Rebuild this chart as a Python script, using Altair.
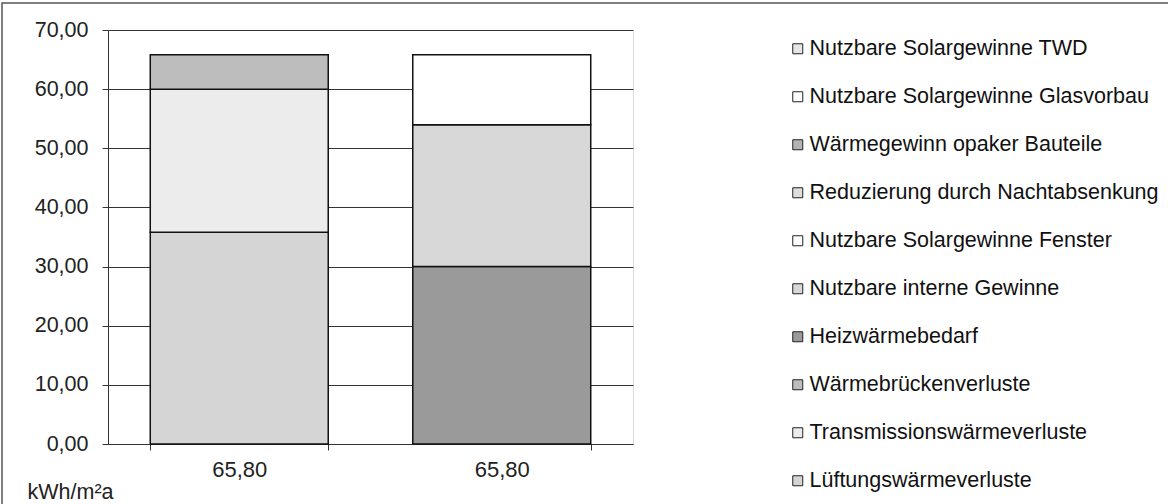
import altair as alt
import pandas as pd

# ---- data ----
series = [
    "Lüftungswärmeverluste",
    "Transmissionswärmeverluste",
    "Wärmebrückenverluste",
    "Heizwärmebedarf",
    "Nutzbare interne Gewinne",
    "Nutzbare Solargewinne Fenster",
    "Reduzierung durch Nachtabsenkung",
    "Wärmegewinn opaker Bauteile",
    "Nutzbare Solargewinne Glasvorbau",
    "Nutzbare Solargewinne TWD",
]
colors = [
    "#d5d5d5", "#ececec", "#bdbdbd", "#9a9a9a", "#d8d8d8",
    "#ffffff", "#dedede", "#b4b4b4", "#ffffff", "#e6e6e6",
]
bar_ids = ["A", "B"]
bar_labels = ["65,80", "65,80"]
values_a = [35.8, 24.2, 5.8, 0, 0, 0, 0, 0, 0, 0]
values_b = [0, 0, 0, 30.0, 24.0, 11.8, 0, 0, 0, 0]
y_ticks = [0, 10, 20, 30, 40, 50, 60, 70]
unit_label = "kWh/m²a"

rows = []
for bid, vals in zip(bar_ids, [values_a, values_b]):
    for i, (s, v) in enumerate(zip(series, vals)):
        if v > 0:
            rows.append({"bar": bid, "series": s, "value": v, "idx": i})
df = pd.DataFrame(rows)

legend_domain = list(reversed(series))
legend_range = list(reversed(colors))

label_expr = " : ".join(
    [f"datum.value == '{b}' ? '{l}'" for b, l in zip(bar_ids, bar_labels)] + ["''"]
)

FONT = "Liberation Sans"

bars = alt.Chart(df).mark_bar(stroke="#111111", strokeWidth=1.5).encode(
    x=alt.X(
        "bar:N",
        sort=bar_ids,
        scale=alt.Scale(paddingInner=0.322, paddingOuter=0.161),
        axis=alt.Axis(
            title=None,
            labelExpr=label_expr,
            labelAngle=0,
            labelFontSize=22,
            labelPadding=9,
            tickBand="extent",
            tickSize=6,
            tickColor="#333333",
            domainColor="#333333",
            labelColor="#222222",
            labelFont=FONT,
        ),
    ),
    y=alt.Y(
        "value:Q",
        stack="zero",
        scale=alt.Scale(domain=[0, 70], nice=False),
        axis=alt.Axis(
            values=y_ticks,
            title=unit_label,
            titleAngle=0,
            titleX=-81,
            titleY=462,
            titleAlign="left",
            titleBaseline="middle",
            titleFontSize=21.5,
            titleFontWeight="normal",
            titleFont=FONT,
            titleColor="#222222",
            labelExpr="replace(format(datum.value, '.2f'), '.', ',')",
            labelFontSize=21.5,
            labelPadding=14,
            labelFont=FONT,
            labelColor="#222222",
            tickSize=6,
            tickColor="#333333",
            domainColor="#333333",
            grid=True,
            gridColor="#333333",
            gridWidth=1,
        ),
    ),
    color=alt.Color(
        "series:N",
        scale=alt.Scale(domain=legend_domain, range=legend_range),
        legend=alt.Legend(
            title=None,
            orient="none",
            legendX=679,
            legendY=8,
            symbolType="square",
            symbolSize=100,
            symbolStrokeColor="#222222",
            symbolStrokeWidth=1,
            labelFontSize=21.5,
            labelFont=FONT,
            labelColor="#111111",
            labelOffset=1,
            rowPadding=25,
            padding=0,
            labelLimit=450,
        ),
    ),
    order=alt.Order("idx:Q", sort="ascending"),
)

frame = alt.Chart(pd.DataFrame({"k": [0]})).mark_rect(
    fill=None, stroke="#555555", strokeWidth=1.5
).encode(
    x=alt.value(-106), x2=alt.value(1100), y=alt.value(-27), y2=alt.value(520)
)

chart = alt.layer(frame, bars).properties(
    width=525,
    height=414,
    autosize=alt.AutoSizeParams(type="none"),
    padding={"left": 108, "top": 30, "right": 535, "bottom": 60},
).configure_view(stroke=None).configure(background="white")

chart.save("out.html", embed_options={"renderer": "svg", "actions": False})
